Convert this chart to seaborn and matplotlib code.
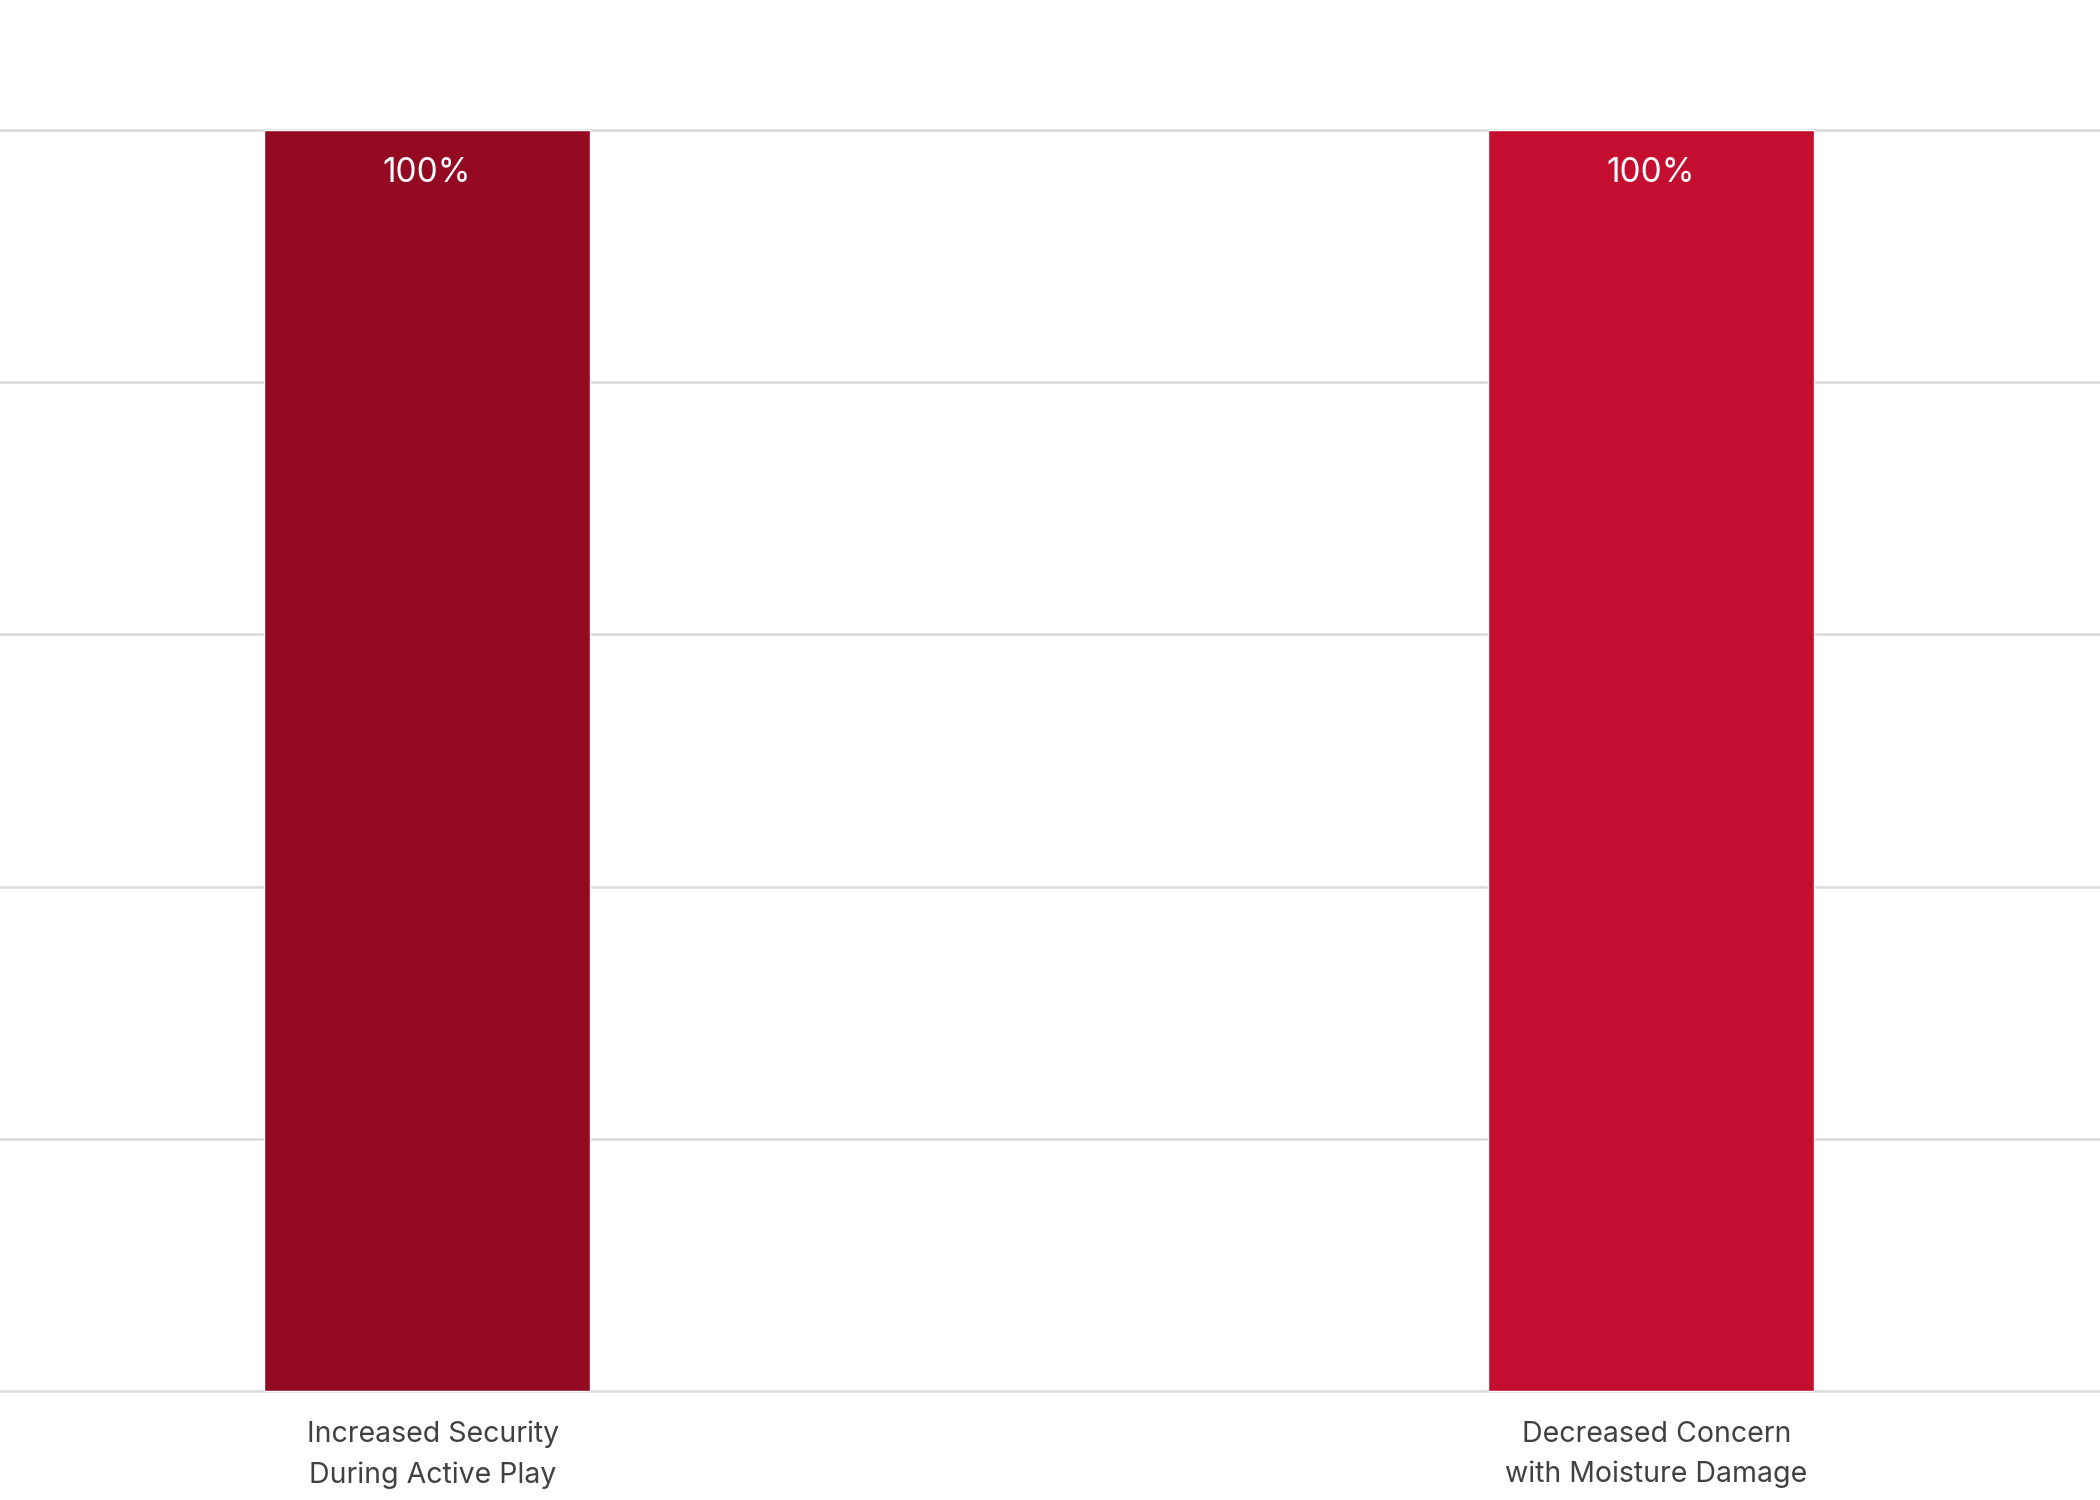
import matplotlib
matplotlib.use("Agg")
import matplotlib.pyplot as plt
import matplotlib.transforms as mtransforms
import seaborn as sns
import pandas as pd

# dados
categorias = ["Increased Security\nDuring Active Play", "Decreased Concern\nwith Moisture Damage"]
valores = [100, 100]
rotulos = ["100%", "100%"]
cores = ["#940A22", "#C40E30"]

df = pd.DataFrame({"categoria": categorias, "valor": valores})

sns.set_theme(style="white")
plt.rcParams["font.family"] = ["Inter", "DejaVu Sans"]

fig = plt.figure(figsize=(21, 15), dpi=100)
ax = fig.add_axes([0, 0.0713, 1, 0.8437])

sns.barplot(data=df, x="categoria", y="valor", hue="categoria", palette=cores,
            width=0.266, legend=False, ax=ax, saturation=1)

ax.set_xlim(-0.349, 1.367)
ax.set_ylim(-0.15, 100.2)
ax.set_yticks([0, 20, 40, 60, 80, 100])
ax.yaxis.grid(True, color="#D9D9D9", linewidth=1.8)
ax.set_axisbelow(True)
ax.set_yticklabels([])
ax.tick_params(axis="y", length=0)
ax.tick_params(axis="x", length=0, pad=19, labelsize=20.5, labelcolor="#404040")

# rótulos do eixo x um pouco para a direita, como no original
desloc = mtransforms.ScaledTranslation(4 / 72, -1 / 72, fig.dpi_scale_trans)
for t in ax.get_xticklabels():
    t.set_linespacing(1.6)
    t.set_transform(t.get_transform() + desloc)
ax.set_xlabel("")
ax.set_ylabel("")
for s in ax.spines.values():
    s.set_visible(False)

# rótulos dentro das barras
for i, (v, r) in enumerate(zip(valores, rotulos)):
    ax.annotate(r, (i, v), xytext=(0, -31), textcoords="offset points",
                ha="center", va="center", color="white", fontsize=24)

fig.savefig("out.png", dpi=100)
